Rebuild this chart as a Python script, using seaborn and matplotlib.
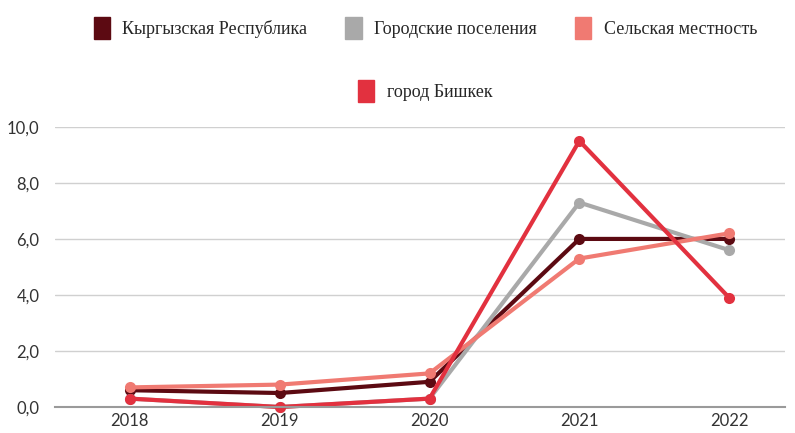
import matplotlib
matplotlib.use("Agg")
import matplotlib.pyplot as plt
import matplotlib.patches as mpatches
import seaborn as sns
import pandas as pd

years = [2018, 2019, 2020, 2021, 2022]
kyrgyz = [0.6, 0.5, 0.9, 6.0, 6.0]
gorod_pos = [0.3, 0.0, 0.3, 7.3, 5.6]
selsk = [0.7, 0.8, 1.2, 5.3, 6.2]
bishkek = [0.3, 0.0, 0.3, 9.5, 3.9]

names = ["Кыргызская Республика", "Городские поселения", "Сельская местность", "город Бишкек"]
colors = ["#5c0a12", "#a9a9a9", "#f07a72", "#e2313f"]

# длинный формат для seaborn
df = pd.DataFrame({
    "Год": years * 4,
    "Значение": kyrgyz + gorod_pos + selsk + bishkek,
    "Ряд": [n for n in names for _ in years],
})

sns.set_style("white")
fig = plt.figure(figsize=(7.95, 4.33), dpi=100)
ax = fig.add_axes([0.069, 0.06, 0.918, 0.647])

sns.lineplot(data=df, x="Год", y="Значение", hue="Ряд", palette=dict(zip(names, colors)),
             marker="o", markersize=8, markeredgewidth=0, linewidth=3,
             legend=False, ax=ax, clip_on=False)

ax.set_xlim(2017.5, 2022.37)
ax.set_ylim(0, 10)
ax.set_xticks(years)
ax.set_yticks([0, 2, 4, 6, 8, 10])
ax.set_yticklabels([f"{v:.1f}".replace(".", ",") for v in [0, 2, 4, 6, 8, 10]])
ax.grid(axis="y", color="#d0d0d0", linewidth=1)
ax.set_axisbelow(True)
for s in ["top", "right", "left"]:
    ax.spines[s].set_visible(False)
ax.spines["bottom"].set_color("#9a9a9a")
ax.spines["bottom"].set_linewidth(1.5)
ax.tick_params(axis="both", length=0, labelsize=12, colors="#333333")
ax.tick_params(axis="x", pad=4)
ax.tick_params(axis="y", pad=11)
ax.set_xlabel("")
ax.set_ylabel("")
for lbl in ax.get_xticklabels() + ax.get_yticklabels():
    lbl.set_family("Lato")

# легенда в две строки
handles = [mpatches.Patch(color=c, label=n) for n, c in zip(names, colors)]
leg_font = {"family": "Liberation Serif", "size": 13}
fig.legend(handles=handles[:3], loc="center", bbox_to_anchor=(0.535, 0.935), ncol=3,
           frameon=False, prop=leg_font, handlelength=0.9, handleheight=1.5,
           columnspacing=2.1, handletextpad=0.7)
fig.legend(handles=handles[3:], loc="center", bbox_to_anchor=(0.535, 0.79), ncol=1,
           frameon=False, prop=leg_font, handlelength=0.9, handleheight=1.5,
           handletextpad=0.7)

plt.savefig("out.png", dpi=100)
